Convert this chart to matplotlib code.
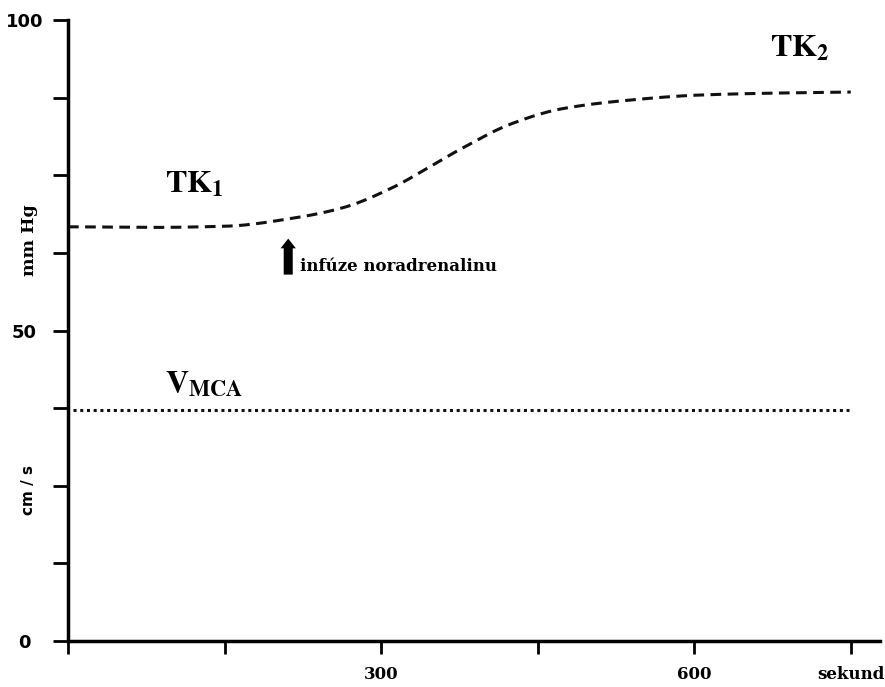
import matplotlib
matplotlib.use("Agg")
import matplotlib.pyplot as plt
import numpy as np

# Data
tk_time = [0, 80, 152, 216, 264, 312, 344, 376, 425, 473, 538, 603, 668, 750]
tk_mmhg = [66.7, 66.6, 66.8, 68.1, 69.8, 73.1, 76.1, 79.2, 83.3, 85.7, 87.1, 87.9, 88.2, 88.4]
v_time = [5, 748]
v_mca = [37.2, 37.2]

xticks = [0, 150, 300, 450, 600, 750]
xticklabels = ["", "", "300", "", "600", "sekund"]
yticks = [0, 12.5, 25, 37.5, 50, 62.5, 75, 87.5, 100]
yticklabels = ["0", "", "", "", "50", "", "", "", "100"]

plt.rcParams['mathtext.fontset'] = 'stix'

fig = plt.figure(figsize=(8.85, 6.87), dpi=100)
ax = fig.add_axes([68/885, 46/687, 812/885, 621/687])

xs = np.array(tk_time, float)
ys = np.array(tk_mmhg, float)
xf = np.linspace(xs[0], xs[-1], 400)

def pchip(x, y, xn):
    h = np.diff(x); d = np.diff(y) / h
    m = np.zeros_like(y)
    for k in range(1, len(x) - 1):
        if d[k-1] * d[k] > 0:
            w1 = 2*h[k] + h[k-1]; w2 = h[k] + 2*h[k-1]
            m[k] = (w1 + w2) / (w1 / d[k-1] + w2 / d[k])
    m[0] = d[0]; m[-1] = d[-1]
    idx = np.clip(np.searchsorted(x, xn) - 1, 0, len(x) - 2)
    t = (xn - x[idx]) / h[idx]
    h00 = 2*t**3 - 3*t**2 + 1; h10 = t**3 - 2*t**2 + t
    h01 = -2*t**3 + 3*t**2; h11 = t**3 - t**2
    return h00*y[idx] + h10*h[idx]*m[idx] + h01*y[idx+1] + h11*h[idx]*m[idx+1]

yf = pchip(xs, ys, xf)

ax.plot(xf, yf, color='#111111', lw=2.2, linestyle=(0, (3.5, 2.1)))
ax.plot(v_time, v_mca, color='#111111', lw=2.2, linestyle=(0, (1, 1.2)))

ax.set_xlim(0, 778)
ax.set_ylim(0, 100)
ax.spines['top'].set_visible(False)
ax.spines['right'].set_visible(False)
for s in ['left', 'bottom']:
    ax.spines[s].set_linewidth(2.5)
    ax.spines[s].set_color('black')

ax.set_xticks(xticks)
ax.set_xticklabels(xticklabels, fontsize=12, fontweight='bold', family='DejaVu Serif')
ax.set_yticks(yticks)
ax.set_yticklabels(yticklabels, fontsize=13, fontweight='bold', family='DejaVu Sans')
ax.tick_params(axis='x', direction='out', length=9, width=2, pad=9)
ax.tick_params(axis='y', direction='out', length=10.5, width=2, pad=21)
for lab in ax.get_yticklabels():
    lab.set_horizontalalignment('center')

# Annotations
ax.text(93, 73.5, r'$\mathbf{TK}_{\mathbf{1}}$', fontsize=23, ha='left', va='center')
ax.text(673, 95.5, r'$\mathbf{TK}_{\mathbf{2}}$', fontsize=23, ha='left', va='center')
ax.text(93, 41.5, r'$\mathbf{V}_{\mathbf{MCA}}$', fontsize=23, ha='left', va='center')

ax.annotate('', xy=(211, 64.8), xytext=(211, 59.0),
            arrowprops=dict(arrowstyle='simple,head_width=1.1,head_length=0.7,tail_width=0.65',
                            color='black', lw=0, shrinkA=0, shrinkB=0))
ax.text(222, 60.3, 'infúze noradrenalinu', fontsize=12, fontweight='bold',
        family='DejaVu Serif', ha='left', va='center')

fig.text(30/885, 1 - 240/687, 'mm Hg', rotation=90, fontsize=12.5, fontweight='bold',
         family='DejaVu Serif', ha='center', va='center')
fig.text(29/885, 1 - 490/687, 'cm / s', rotation=90, fontsize=11, fontweight='bold',
         family='DejaVu Sans', ha='center', va='center')

fig.savefig('out.png', dpi=100)
